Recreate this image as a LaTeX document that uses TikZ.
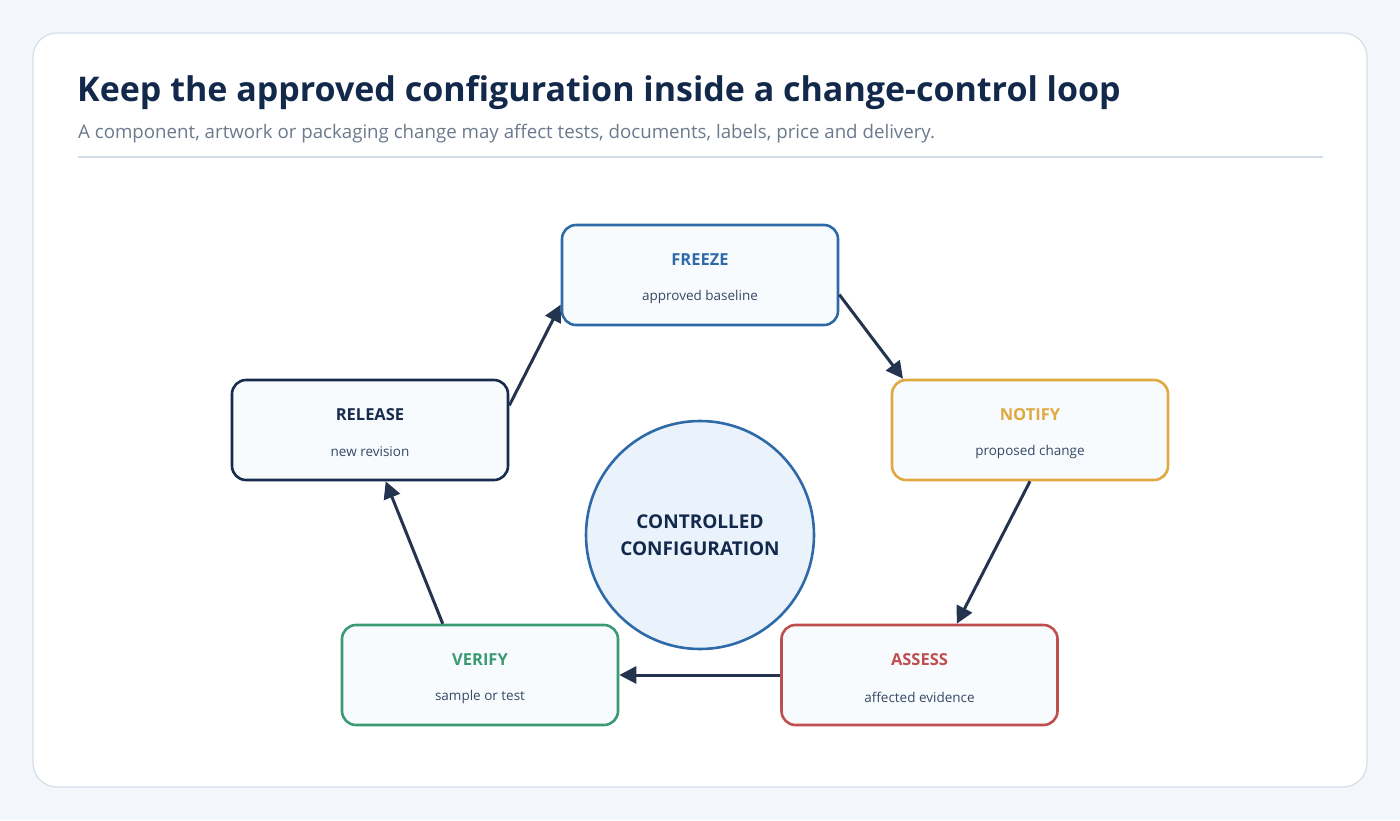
\documentclass[tikz,border=0pt]{standalone}
\usepackage{fontspec}
\setmainfont{Open Sans}
\usetikzlibrary{arrows.meta}
\definecolor{bg}{HTML}{F3F7FB}
\definecolor{cardline}{HTML}{D5DFEA}
\definecolor{navy}{HTML}{13294B}
\definecolor{subg}{HTML}{6B7A8C}
\definecolor{cfreeze}{HTML}{2E6AA8}
\definecolor{cnotify}{HTML}{E0A940}
\definecolor{cassess}{HTML}{BF4E4E}
\definecolor{cverify}{HTML}{3A9A72}
\definecolor{crelease}{HTML}{172B4D}
\definecolor{arr}{HTML}{24344F}
\definecolor{boxfill}{HTML}{F8FBFE}
\definecolor{circfill}{HTML}{EAF3FC}
\begin{document}
\begin{tikzpicture}[x=1pt,y=-1pt,
  step/.style={draw=#1, line width=2.6pt, rounded corners=14pt, fill=boxfill, minimum width=276pt, minimum height=100pt, inner sep=0pt},
  ttl/.style={font=\bfseries\fontsize{16.5}{19}\selectfont, text=#1},
  sub/.style={font=\fontsize{13.5}{16}\selectfont, text=navy!85},
  flow/.style={draw=arr, line width=3pt, -{Triangle[length=17pt,width=17pt]}}]
\fill[bg] (0,0) rectangle (1400,820);
\useasboundingbox (0,0) rectangle (1400,820);
\draw[cardline, fill=white, line width=1.2pt, rounded corners=24pt] (33,33) rectangle (1367,787);
\node[anchor=base west, inner sep=0pt, text=navy, font=\bfseries\fontsize{34}{40}\selectfont] (title) at (77,101) {Keep the approved configuration inside a change-control loop};
\node[anchor=base west, inner sep=0pt, text=subg, font=\fontsize{18.7}{22}\selectfont] (subtitle) at (78,138) {A component, artwork or packaging change may affect tests, documents, labels, price and delivery.};
\draw[cardline, line width=1.2pt] (78,157) -- (1323,157);

\node[step=cfreeze] (freeze) at (700,275) {};
\node[step=cnotify] (notify) at (1030,430) {};
\node[step=cassess] (assess) at (919.5,675) {};
\node[step=cverify] (verify) at (480,675) {};
\node[step=crelease] (release) at (370,430) {};
\foreach \n/\c/\t/\s in {freeze/cfreeze/FREEZE/approved baseline, notify/cnotify/NOTIFY/proposed change, assess/cassess/ASSESS/affected evidence, verify/cverify/VERIFY/sample or test, release/crelease/RELEASE/new revision}{
  \node[ttl=\c] (\n-t) at ([yshift=15pt]\n.center) {\t};
  \node[sub] (\n-s) at ([yshift=-22pt]\n.center) {\s};
}
\node[circle, draw=cfreeze, fill=circfill, line width=2.6pt, minimum size=228pt, align=center, text=navy, font=\bfseries\fontsize{19}{27}\selectfont] (core) at (700,535) {CONTROLLED\\CONFIGURATION};

\draw[flow] (freeze.-8) -- (notify.158);
\draw[flow] (notify.south) -- (assess.54);
\draw[flow] (assess.west) -- (verify.east);
\draw[flow] (verify.126) -- (release.-73.5);
\draw[flow] (release.10) -- (freeze.192);
\end{tikzpicture}
\end{document}
